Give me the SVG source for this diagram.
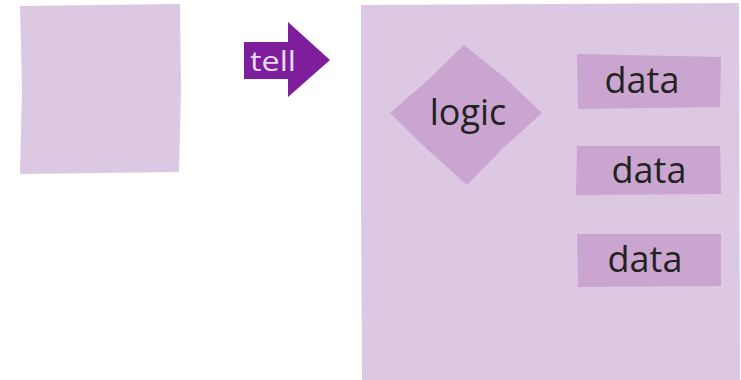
<svg xmlns="http://www.w3.org/2000/svg" width="741" height="380" viewBox="0 0 741 380">
<style>
.box{fill:#dcc8e2}
.inner{fill:#c9a5cf}
.lbl{font-family:"Open Sans","Noto Sans",sans-serif;font-size:36px;fill:#222}
.tell{font-family:"Open Sans","Noto Sans",sans-serif;font-size:28px;fill:#eadcf0}
</style>
<rect width="741" height="380" fill="#ffffff"/>
<g id="client">
<polygon class="box" points="20,6 180,4 181,90 179,172 20,174 22,90"/>
</g>
<g id="connectors">
<g id="tell-arrow">
<polygon fill="#7e1e9c" points="244,42 288,42 288,22 330,60 288,97 288,79 244,79"/>
<text class="tell" x="250" y="71" textLength="46" lengthAdjust="spacingAndGlyphs">tell</text>
</g>
</g>
<g id="object">
<polygon class="box" points="361,5 739,3 740,380 362,380 361,190"/>
</g>
<g id="logic">
<polygon class="inner" points="464,45 505,78 542,113 503,148 467,185 428,150 390,113 428,80"/>
<text class="lbl" x="468" y="125" text-anchor="middle">logic</text>
</g>
<g id="data1">
<polygon class="inner" points="577,54 721,57 720,107 578,109"/>
<text class="lbl" x="642" y="93" text-anchor="middle">data</text>
</g>
<g id="data2">
<polygon class="inner" points="577,146 720,146 721,194 576,195"/>
<text class="lbl" x="649" y="183" text-anchor="middle">data</text>
</g>
<g id="data3">
<polygon class="inner" points="577,234 721,234 721,286 578,287"/>
<text class="lbl" x="645" y="272" text-anchor="middle">data</text>
</g>
</svg>
